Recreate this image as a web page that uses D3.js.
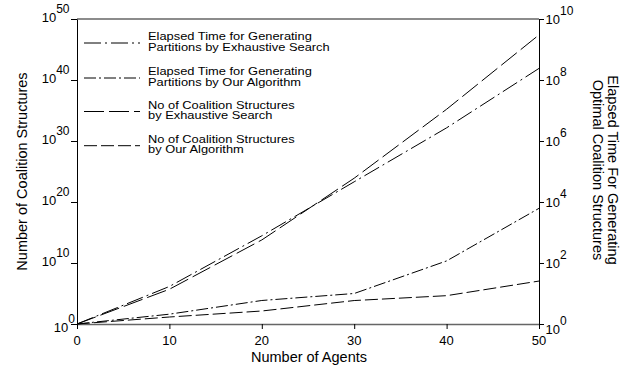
<!DOCTYPE html>
<html>
<head>
<meta charset="utf-8">
<script src="https://cdn.jsdelivr.net/npm/d3@7"></script>
<style>
    body { margin: 0; background: #fff; }
    svg { display: block; font-family: "Liberation Sans", Arial, sans-serif; }
</style>
</head>
<body>
<svg id="grafiek" width="635" height="374"></svg>
<script>
// data
let agents = [0, 10, 20, 30, 40, 50];

// number of coalition structures (left axis)
let csExhaustive = [1, 5e5, 6e13, 8e23, 1.6e35, 2.5e47];
let csOurs = [1, 14, 135, 7000, 4.4e4, 1.1e7];

// elapsed time (right axis)
let timeExhaustive = [1, 17, 780, 4.6e4, 2.7e6, 2.4e8];
let timeOurs = [1, 2.1, 5.9, 10, 117, 6200];

// tick labels
let xTicks = [0, 10, 20, 30, 40, 50];
let leftTicks = [0, 10, 20, 30, 40, 50];
let rightTicks = [0, 2, 4, 6, 8, 10];

let legendLabels = [
    ["Elapsed Time for Generating", "Partitions by Exhaustive Search"],
    ["Elapsed Time for Generating", "Partitions by Our Algorithm"],
    ["No of Coalition Structures", "by Exhaustive Search"],
    ["No of Coalition Structures", "by Our Algorithm"]
];

let plotLeft = 77, plotRight = 539, plotTop = 19, plotBottom = 324;

//schalen
var x = d3.scaleLinear().domain([0, 50]).range([plotLeft, plotRight]);
var yLeft = d3.scaleLog().domain([1, 1e50]).range([plotBottom, plotTop]);
var yRight = d3.scaleLog().domain([1, 1e10]).range([plotBottom, plotTop]);

var svg = d3.select("#grafiek");

// series with their axis and dash pattern (legend order)
var series = [
    { values: timeExhaustive, scale: yRight, dash: "17,4,2,4" },
    { values: timeOurs, scale: yRight, dash: "12,3,2,3" },
    { values: csExhaustive, scale: yLeft, dash: "20,5" },
    { values: csOurs, scale: yLeft, dash: "13,4" }
];

// frame line at the top (grey)
svg.append("line")
    .attr("x1", plotLeft).attr("x2", plotRight)
    .attr("y1", plotTop).attr("y2", plotTop)
    .attr("stroke", "#666").attr("stroke-width", 1.5);

// x axis
var xAxis = svg.append("g")
    .attr("transform", "translate(0," + plotBottom + ")")
    .call(d3.axisBottom(x).tickValues(xTicks).tickSize(5).tickSizeOuter(0).tickFormat(""));
xAxis.select(".domain").attr("stroke", "#666").attr("stroke-width", 1.5);

svg.selectAll(".xlabel")
    .data(xTicks)
    .join("text")
    .attr("class", "xlabel")
    .attr("x", function (d) { return x(d); })
    .attr("y", 345)
    .attr("text-anchor", "middle")
    .attr("font-size", 13)
    .text(function (d) { return d; });

// left axis
svg.append("g")
    .attr("transform", "translate(" + plotLeft + ",0)")
    .call(d3.axisLeft(yLeft).tickValues(leftTicks.map(function (e) { return Math.pow(10, e); }))
        .tickSize(6).tickSizeOuter(0).tickFormat(""));

// right axis
svg.append("g")
    .attr("transform", "translate(" + plotRight + ",0)")
    .call(d3.axisRight(yRight).tickValues(rightTicks.map(function (e) { return Math.pow(10, e); }))
        .tickSize(5).tickSizeOuter(0).tickFormat(""));

svg.selectAll(".tick line").attr("stroke", "#000");

// labels 10^n with superscript
var lLabels = svg.selectAll(".llabel")
    .data(leftTicks)
    .join("text")
    .attr("class", "llabel")
    .attr("text-anchor", "end")
    .attr("font-size", 13)
    .attr("x", function (d) { return d === 0 ? 75 : 69.5; })
    .attr("y", function (d) { return yLeft(Math.pow(10, d)) + (d === 0 ? 7.7 : 2.7); });
lLabels.append("tspan").text("10");
lLabels.append("tspan").attr("dy", -9).attr("font-size", 12).text(function (d) { return d; });

var rLabels = svg.selectAll(".rlabel")
    .data(rightTicks)
    .join("text")
    .attr("class", "rlabel")
    .attr("font-size", 13)
    .attr("x", 545.5)
    .attr("y", function (d) { return yRight(Math.pow(10, d)) + (d === 0 ? 10 : 5); });
rLabels.append("tspan").text("10");
rLabels.append("tspan").attr("dy", -9).attr("font-size", 12).text(function (d) { return d; });

// axis titles
svg.append("text")
    .attr("x", 309).attr("y", 361.5)
    .attr("text-anchor", "middle")
    .attr("font-size", 14.5)
    .text("Number of Agents");

svg.append("text")
    .attr("transform", "translate(26.5,171.5) rotate(-90)")
    .attr("text-anchor", "middle")
    .attr("font-size", 14.5)
    .text("Number of Coalition Structures");

svg.append("text")
    .attr("transform", "translate(607.5,170) rotate(90)")
    .attr("text-anchor", "middle")
    .attr("font-size", 14.5)
    .text("Elapsed Time For Generating");

svg.append("text")
    .attr("transform", "translate(593,170) rotate(90)")
    .attr("text-anchor", "middle")
    .attr("font-size", 14.5)
    .text("Optimal Coalition Structures");

// lines
series.forEach(function (s) {
    var line = d3.line()
        .x(function (d, i) { return x(agents[i]); })
        .y(function (d) { return s.scale(d); });
    svg.append("path")
        .datum(s.values)
        .attr("d", line)
        .attr("fill", "none")
        .attr("stroke", "#000")
        .attr("stroke-width", 1)
        .attr("stroke-dasharray", s.dash);
});

// legend
var legendY = [40, 75, 108.5, 142.7];
legendLabels.forEach(function (lab, i) {
    svg.append("line")
        .attr("x1", 84).attr("x2", 140)
        .attr("y1", legendY[i] + 3).attr("y2", legendY[i] + 3)
        .attr("stroke", "#000")
        .attr("stroke-dasharray", series[i].dash);
    lab.forEach(function (t, j) {
        svg.append("text")
            .attr("transform", "translate(148," + (legendY[i] + j * 10.7) + ") scale(1.17,1)")
            .attr("font-size", 11)
            .text(t);
    });
});
</script>
</body>
</html>
